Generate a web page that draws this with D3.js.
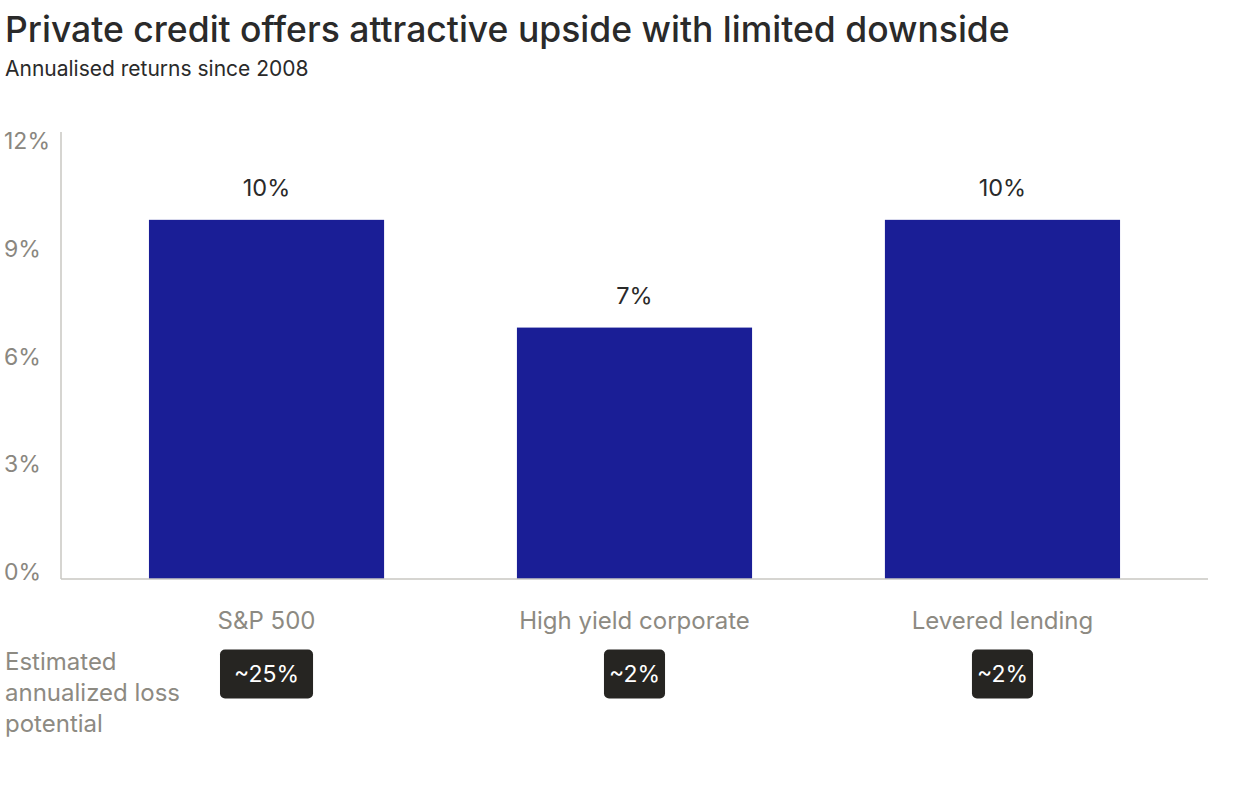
<!DOCTYPE html>
<html>
<head>
<meta charset="utf-8">
<script src="https://cdn.jsdelivr.net/npm/d3@7"></script>
<style>
  body { margin: 0; background: #fff; }
  svg text { font-family: Inter, "Noto Sans", sans-serif; }
</style>
</head>
<body>
<div id="chart"></div>
<script>
"use strict";
const categories = ["S&P 500", "High yield corporate", "Levered lending"];
const returns = [10, 7, 10];
const returnLabels = ["10%", "7%", "10%"];
const lossLabels = ["~25%", "~2%", "~2%"];
const yTicks = [0, 3, 6, 9, 12];
const lossTitle = ["Estimated", "annualized loss", "potential"];

const W = 1256, H = 792;
const svg = d3.select("#chart").append("svg")
    .attr("width", W)
    .attr("height", H);

// title + subtitle
svg.append("text")
    .attr("x", 5).attr("y", 42)
    .attr("font-size", 35.5).attr("font-weight", 500)
    .attr("fill", "#2a2a2a")
    .text("Private credit offers attractive upside with limited downside");
svg.append("text")
    .attr("x", 5).attr("y", 76)
    .attr("font-size", 21)
    .attr("fill", "#2a2a2a")
    .text("Annualised returns since 2008");

const x = d3.scaleBand()
    .domain(categories)
    .range([61, 1208])
    .paddingInner(0.361)
    .paddingOuter(0.239);
const y = d3.scaleLinear().domain([0, 12]).range([579, 148]);

// y axis line
svg.append("line")
    .attr("x1", 61).attr("x2", 61).attr("y1", 132).attr("y2", y(0))
    .attr("stroke", "#c9c7c2").attr("stroke-width", 1.5);

// tick labels
svg.selectAll(".ytick").data(yTicks).enter().append("text")
    .attr("class", "ytick")
    .attr("x", 4).attr("y", d => y(d) - 7)
    .attr("dy", "0.35em")
    .attr("font-size", 23)
    .attr("fill", "#8a8780")
    .text(d => d + "%");

// bars
svg.selectAll(".bar").data(returns).enter().append("rect")
    .attr("class", "bar")
    .attr("x", (d, i) => x(categories[i]))
    .attr("y", d => y(d))
    .attr("width", x.bandwidth())
    .attr("height", d => y(0) - y(d))
    .attr("fill", "#1a1e96");

svg.append("line")
    .attr("x1", 61).attr("x2", 1208).attr("y1", y(0)).attr("y2", y(0))
    .attr("stroke", "#c9c7c2").attr("stroke-width", 1.5);

// value labels
svg.selectAll(".val").data(returns).enter().append("text")
    .attr("class", "val")
    .attr("x", (d, i) => x(categories[i]) + x.bandwidth() / 2)
    .attr("y", d => y(d) - 32)
    .attr("dy", "0.35em")
    .attr("text-anchor", "middle")
    .attr("font-size", 23.5)
    .attr("fill", "#2a2a2a")
    .text((d, i) => returnLabels[i]);

// category labels
svg.selectAll(".cat").data(categories).enter().append("text")
    .attr("class", "cat")
    .attr("x", d => x(d) + x.bandwidth() / 2)
    .attr("y", 621)
    .attr("dy", "0.35em")
    .attr("text-anchor", "middle")
    .attr("font-size", 24)
    .attr("fill", "#8d8a82")
    .text(d => d);

// loss title
svg.append("text")
    .attr("x", 5).attr("y", 662)
    .attr("font-size", 24)
    .attr("fill", "#8d8a82")
    .selectAll("tspan").data(lossTitle).enter().append("tspan")
    .attr("x", 5)
    .attr("dy", (d, i) => i === 0 ? "0.35em" : 31)
    .text(d => d);

// loss badges
const badgePad = [14, 5, 5];
const badges = svg.selectAll(".badge").data(lossLabels).enter().append("g")
    .attr("class", "badge")
    .attr("transform", (d, i) => `translate(${x(categories[i]) + x.bandwidth() / 2},674)`);
badges.append("text")
    .attr("text-anchor", "middle")
    .attr("dy", "0.35em")
    .attr("font-size", 23)
    .attr("fill", "#fff")
    .text(d => d);
badges.each(function (d, i) {
    const g = d3.select(this);
    const w = g.select("text").node().getComputedTextLength() + 2 * badgePad[i];
    g.insert("rect", "text")
        .attr("x", -w / 2).attr("y", -24.5)
        .attr("width", w).attr("height", 49)
        .attr("rx", 5)
        .attr("fill", "#262522");
});
</script>
</body>
</html>
